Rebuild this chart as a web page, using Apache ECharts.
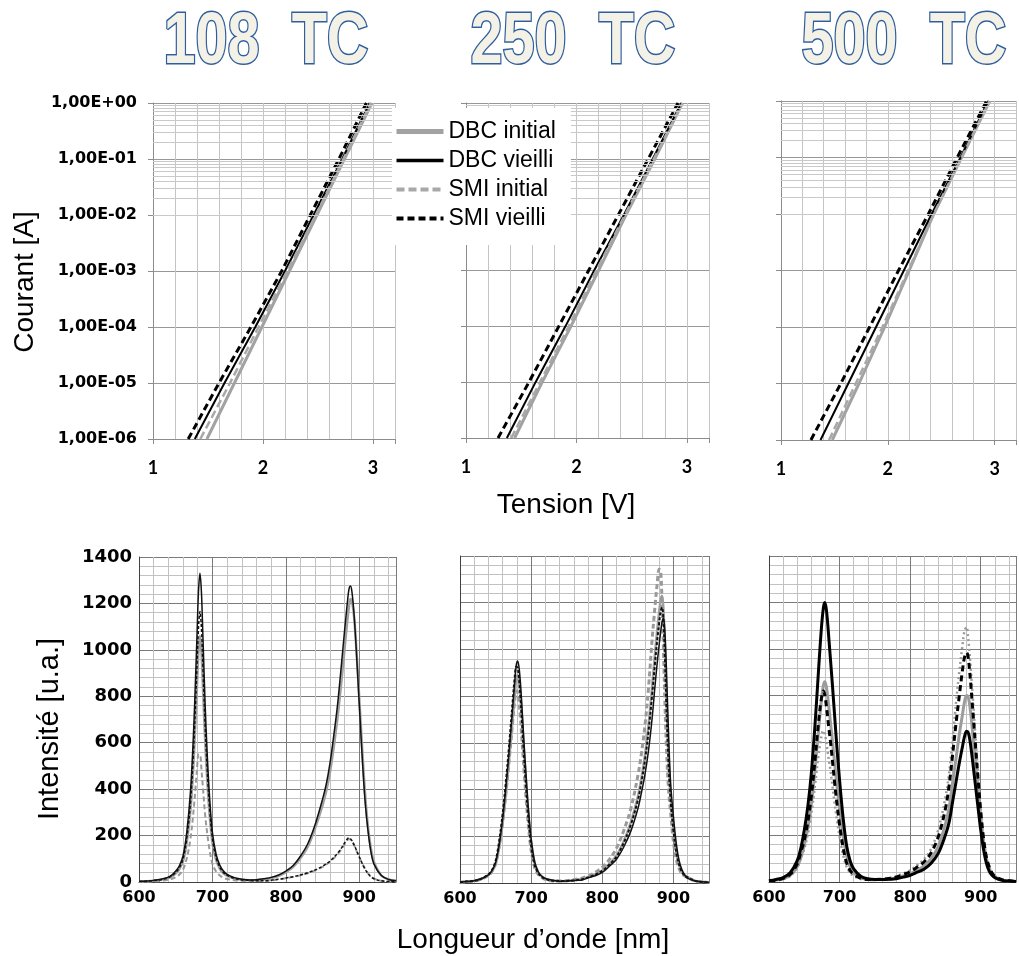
<!DOCTYPE html>
<html><head><meta charset="utf-8">
<script src="https://cdn.jsdelivr.net/npm/echarts@6/dist/echarts.min.js"></script>
<style>html,body{margin:0;padding:0;background:#fff}#c{width:1019px;height:956px}</style>
</head><body><div id="c"></div><script>
// ---------- DATA ----------
const titles = ['108  TC', '250  TC', '500  TC'];
const seriesNames = ['DBC initial', 'DBC vieilli', 'SMI initial', 'SMI vieilli'];
const voltageTicks = [1, 2, 3];
const currentLevels = [1e-6, 1e-5, 1e-4, 1e-3, 1e-2, 1e-1, 1];

// I-V : voltage (V) reached at each current level
const iv108DbcInitial = [1.49, 1.74, 1.99, 2.24, 2.49, 2.74, 2.99];
const iv108DbcVieilli = [1.38, 1.65, 1.93, 2.20, 2.46, 2.72, 2.97];
const iv108SmiInitial = [1.43, 1.70, 1.96, 2.22, 2.48, 2.73, 2.98];
const iv108SmiVieilli = [1.32, 1.60, 1.89, 2.17, 2.43, 2.69, 2.94];
const iv250DbcInitial = [1.44, 1.69, 1.95, 2.20, 2.45, 2.71, 2.96];
const iv250DbcVieilli = [1.37, 1.63, 1.90, 2.16, 2.43, 2.69, 2.95];
const iv250SmiInitial = [1.41, 1.67, 1.93, 2.18, 2.44, 2.70, 2.96];
const iv250SmiVieilli = [1.29, 1.57, 1.84, 2.11, 2.38, 2.65, 2.92];
const iv500DbcInitial = [1.48, 1.73, 1.97, 2.20, 2.43, 2.69, 2.955];
const iv500DbcVieilli = [1.37, 1.63, 1.89, 2.15, 2.41, 2.68, 2.94];
const iv500SmiInitial = [1.45, 1.70, 1.95, 2.19, 2.43, 2.69, 2.95];
const iv500SmiVieilli = [1.28, 1.56, 1.83, 2.10, 2.38, 2.65, 2.925];

// Spectra : wavelength (nm) and intensity (u.a.)
const wavelengths = [600,610,620,630,640,645,650,655,660,665,670,674,677,679,681,683,685,687,690,693,696,700,705,710,715,720,730,740,750,760,770,780,790,800,810,820,830,840,850,855,860,865,870,874,877,880,882,884,886,888,890,893,896,900,904,908,912,916,920,930,940,950];

const sp108DbcInitial = [2,3,5,10,17,24,37,56,90,170,307,498,700,848,996,1060,996,848,615,435,297,170,95,58,37,27,15,10,8,8,12,17,26,42,65,103,153,233,331,392,472,576,698,815,907,1005,1072,1133,1188,1219,1213,1139,1005,790,570,374,233,141,86,28,11,5];
const sp108DbcVieilli = [3,4,7,12,21,31,47,70,113,213,386,625,878,1064,1250,1330,1250,1064,771,545,372,213,120,73,47,33,19,12,9,10,14,20,30,47,71,112,166,249,357,421,510,625,752,880,982,1084,1148,1211,1262,1275,1250,1148,995,765,536,344,217,128,77,28,11,5];
const sp108SmiInitial = [1,2,3,5,10,14,21,32,53,101,185,297,409,487,549,549,487,409,291,207,140,78,45,28,18,13,8,5,4,4,5,7,11,16,22,29,38,50,65,75,87,101,118,134,148,163,173,181,185,182,175,158,136,107,80,56,37,24,15,5,2,1];
const sp108SmiVieilli = [2,3,6,10,19,27,41,62,99,186,338,548,769,932,1095,1165,1095,932,676,478,326,186,105,64,41,29,15,9,7,5,5,8,12,17,23,30,40,52,68,78,90,105,122,138,152,168,178,187,190,186,178,160,138,108,80,55,36,22,14,5,2,1];

const sp250DbcInitial = [3,5,9,17,33,50,80,151,258,401,561,703,810,872,890,863,801,712,561,427,303,178,85,45,28,18,11,8,9,12,16,25,37,54,82,118,178,258,369,449,547,677,836,978,1076,1162,1212,1230,1169,1009,800,541,369,234,135,80,49,32,25,10,5,2];
const sp250DbcVieilli = [3,6,10,18,35,53,86,162,276,428,599,751,865,931,950,922,855,760,599,456,323,190,90,48,29,19,12,8,9,11,12,22,31,45,72,102,153,221,318,386,465,568,704,840,936,1022,1073,1118,1135,1078,931,653,431,284,170,96,57,34,20,10,5,2];
const sp250SmiInitial = [2,6,8,17,33,50,83,158,266,398,556,689,784,822,818,776,706,618,481,357,249,141,66,37,23,15,9,9,10,14,20,30,45,68,101,149,223,317,459,554,675,837,1040,1181,1276,1343,1337,1202,999,776,594,405,304,176,101,61,39,30,23,9,4,2];
const sp250SmiVieilli = [3,7,9,19,37,56,94,178,299,449,626,776,884,926,921,874,795,697,542,402,281,159,75,42,26,17,10,9,9,11,15,24,35,52,79,113,171,248,354,431,525,649,802,938,1033,1115,1162,1180,1121,968,767,519,354,224,130,77,47,31,24,9,4,2];

const sp500DbcInitial = [3,8,14,28,66,103,159,232,335,477,645,774,843,860,843,800,744,688,602,512,421,314,198,112,65,40,18,11,10,11,12,17,26,35,52,69,101,153,250,314,423,531,640,716,773,801,797,769,720,660,596,499,403,278,173,101,58,36,23,9,4,2];
const sp500DbcVieilli = [5,11,19,40,92,144,222,324,468,666,900,1080,1176,1200,1176,1116,1038,960,840,714,588,438,276,156,90,56,25,14,11,11,12,14,21,29,42,56,82,124,202,254,341,429,517,579,624,647,644,621,582,533,481,403,325,224,140,81,47,29,19,7,4,2];
const sp500SmiInitial = [3,7,12,26,62,101,143,205,293,410,540,621,650,637,605,562,520,481,410,338,273,195,117,65,39,26,13,11,11,13,17,24,36,50,72,99,144,226,363,462,605,770,913,1012,1078,1095,1056,990,913,825,737,605,473,308,187,110,64,40,26,10,5,3];
const sp500SmiVieilli = [4,8,16,33,78,127,180,258,369,517,681,783,820,804,763,709,656,607,517,426,344,246,148,82,49,33,16,11,11,12,15,21,32,44,64,87,127,195,315,409,542,680,808,906,965,985,970,916,847,768,690,571,453,305,187,108,66,39,25,10,5,3];

// ---------- LAYOUT / STYLE ----------
const ivSets = [
  [iv108DbcInitial, iv108DbcVieilli, iv108SmiInitial, iv108SmiVieilli],
  [iv250DbcInitial, iv250DbcVieilli, iv250SmiInitial, iv250SmiVieilli],
  [iv500DbcInitial, iv500DbcVieilli, iv500SmiInitial, iv500SmiVieilli]
];
const spSets = [
  [sp108DbcInitial, sp108DbcVieilli, sp108SmiInitial, sp108SmiVieilli],
  [sp250DbcInitial, sp250DbcVieilli, sp250SmiInitial, sp250SmiVieilli],
  [sp500DbcInitial, sp500DbcVieilli, sp500SmiInitial, sp500SmiVieilli]
];
const topBoxes = [
  {left: 153, top: 103, width: 242, height: 336},
  {left: 466, top: 103, width: 243, height: 335},
  {left: 781, top: 101, width: 243, height: 339}
];
const botBoxes = [
  {left: 139, top: 557, width: 257, height: 325},
  {left: 460, top: 556, width: 249, height: 327},
  {left: 769, top: 556, width: 249, height: 326}
];
const titleX = [266, 573, 904];

const topStyles = [
  {color: '#a2a2a2', width: 3, type: 'solid'},
  {color: '#000000', width: 2, type: 'solid'},
  {color: '#a8a8a8', width: 2.5, type: [8, 4]},
  {color: '#000000', width: 3, type: [7, 4]}
];
const botStyles = [
  [
    {color: '#a0a0a0', width: 2.5, type: 'solid'},
    {color: '#111111', width: 1.5, type: 'solid'},
    {color: '#9a9a9a', width: 2, type: [5, 3]},
    {color: '#111111', width: 1.5, type: [3, 2]}
  ],
  [
    {color: '#a0a0a0', width: 2.5, type: 'solid'},
    {color: '#111111', width: 1.5, type: 'solid'},
    {color: '#9a9a9a', width: 3, type: [5, 3]},
    {color: '#111111', width: 2, type: [3, 2]}
  ],
  [
    {color: '#9c9c9c', width: 3, type: 'solid'},
    {color: '#000000', width: 3, type: 'solid'},
    {color: '#9a9a9a', width: 2.5, type: [2, 3]},
    {color: '#000000', width: 3, type: [6, 4]}
  ]
];
const drawOrder = [0, 2, 3, 1];

// minor log grid values (2..9 per decade)
const minorLog = [];
for (let e = -6; e < 0; e++) for (let m = 2; m <= 9; m++) minorLog.push(m * Math.pow(10, e));

function sciLabel(v) {
  const e = Math.round(Math.log10(v));
  return '1,00E' + (e >= 0 ? '+' : '-') + String(Math.abs(e)).padStart(2, '0');
}

const grid = [], xAxis = [], yAxis = [], series = [];
const lblTop = {fontFamily: 'DejaVu Sans', fontWeight: 'bold', fontSize: 16, color: '#000'};

topBoxes.forEach((b, i) => {
  grid.push(Object.assign({containLabel: false}, b));
  xAxis.push({type: 'value', gridIndex: i, position: 'bottom', min: 1, max: 3.2, interval: 0.2,
    axisLine: {show: false}, axisTick: {show: false}, axisLabel: {show: false},
    splitLine: {show: true, lineStyle: {color: '#c4c4c4', width: 1}}});
  xAxis.push({type: 'value', gridIndex: i, position: 'bottom', min: 1, max: 3.2, interval: 1,
    axisLine: {show: true, onZero: false, lineStyle: {color: '#8c8c8c'}},
    axisTick: {show: true, length: 5, lineStyle: {color: '#8c8c8c'}},
    splitLine: {show: false},
    axisLabel: {show: true, margin: 20, fontFamily: 'Lato', fontWeight: 'bold', fontSize: 18, color: '#000',
      formatter: v => voltageTicks.some(t => Math.abs(t - v) < 1e-6) ? String(Math.round(v)) : ''}});
  yAxis.push({type: 'log', logBase: 10, gridIndex: i, position: 'left', min: 1e-6, max: 1, splitNumber: 6,
    axisLine: {show: true, lineStyle: {color: '#8c8c8c'}},
    axisTick: {show: true, length: 5, lineStyle: {color: '#8c8c8c'}},
    splitLine: {show: true, lineStyle: {color: '#989898', width: 1}},
    axisLabel: Object.assign({show: i === 0, margin: 16, formatter: sciLabel}, lblTop)});
});
botBoxes.forEach((b, i) => {
  const g = i + 3;
  grid.push(Object.assign({containLabel: false}, b));
  xAxis.push({type: 'value', gridIndex: g, position: 'bottom', min: 600, max: 950, interval: 20,
    axisLine: {show: false}, axisTick: {show: false}, axisLabel: {show: false},
    splitLine: {show: true, lineStyle: {color: '#c2c2c2', width: 1}}});
  xAxis.push({type: 'value', gridIndex: g, position: 'bottom', min: 600, max: 950, interval: 100,
    axisLine: {show: true, onZero: false, lineStyle: {color: '#404040', width: 1}},
    axisTick: {show: false},
    splitLine: {show: true, lineStyle: {color: '#7a7a7a', width: 1}},
    axisLabel: {show: true, margin: 8, fontFamily: 'DejaVu Sans', fontWeight: 'bold', fontSize: 16, color: '#000',
      formatter: v => (v % 100 === 0 && v < 950) ? String(v) : ''}});
  yAxis.push({type: 'value', gridIndex: g, position: 'left', min: 0, max: 1400, interval: 200,
    axisLine: {show: true, lineStyle: {color: '#404040', width: 1}},
    axisTick: {show: false},
    minorTick: {show: false, splitNumber: 5},
    minorSplitLine: {show: true, lineStyle: {color: '#c2c2c2', width: 1}},
    splitLine: {show: true, lineStyle: {color: '#7a7a7a', width: 1}},
    axisLabel: {show: i === 0, margin: 7, fontFamily: 'DejaVu Sans', fontWeight: 'bold', fontSize: 18, color: '#000',
      formatter: v => String(v)}});
});

for (let i = 0; i < 3; i++) {
  seriesNames.forEach((name, k) => {
    const st = topStyles[k];
    series.push({type: 'line', name, xAxisIndex: 2 * i + 1, yAxisIndex: i, z: 3,
      data: ivSets[i][k].map((v, j) => [v, currentLevels[j]]),
      symbol: 'none', showSymbol: false, silent: true, emphasis: {disabled: true},
      lineStyle: {color: st.color, width: st.width, type: st.type}, itemStyle: {color: st.color}});
  });
  series.push({type: 'line', xAxisIndex: 2 * i + 1, yAxisIndex: i, z: 1, silent: true,
    data: [[1, 1e-6]], symbol: 'none', lineStyle: {opacity: 0},
    markLine: {silent: true, symbol: ['none', 'none'], label: {show: false}, animation: false,
      lineStyle: {color: '#c9c9c9', width: 1, type: 'solid'},
      emphasis: {disabled: true},
      data: minorLog.map(v => ({yAxis: v}))}});
}
for (let i = 0; i < 3; i++) {
  drawOrder.forEach(k => {
    const st = botStyles[i][k];
    series.push({type: 'line', name: seriesNames[k], xAxisIndex: 2 * (i + 3) + 1, yAxisIndex: i + 3, z: 3,
      data: spSets[i][k].map((v, j) => [wavelengths[j], v]),
      smooth: 0.35,
      symbol: 'none', showSymbol: false, silent: true, emphasis: {disabled: true},
      lineStyle: {color: st.color, width: st.width, type: st.type, join: 'round'}, itemStyle: {color: st.color}});
  });
}

const legendLine = [5, 3.5, 4, 4];
const option = {
  animation: false,
  backgroundColor: '#ffffff',
  grid, xAxis, yAxis, series,
  legend: {
    data: seriesNames.map((n, k) => ({name: n, lineStyle: {width: legendLine[k]}})),
    orient: 'vertical', left: 392, top: 108,
    itemWidth: 47, itemHeight: 14, itemGap: 6,
    padding: [12, 15, 15, 2],
    backgroundColor: '#ffffff',
    selectedMode: false,
    itemStyle: {opacity: 0, borderWidth: 0},
    textStyle: {fontFamily: 'Liberation Sans', fontSize: 23, color: '#000', lineHeight: 23},
    z: 20
  },
  graphic: [
    ...titles.map((t, k) => ({type: 'text', x: titleX[k], y: 43, scaleX: 0.8, z: 30,
      style: {text: t, font: 'bold 72px "Liberation Sans", Arial, sans-serif',
        fill: '#f4f2e6', stroke: '#2f5e9e', lineWidth: 3,
        textAlign: 'center', textVerticalAlign: 'middle', align: 'center', verticalAlign: 'middle',
        shadowColor: 'rgba(0,0,0,0.25)', shadowBlur: 3, shadowOffsetX: 2, shadowOffsetY: 2}})),
    {type: 'text', x: 25, y: 282, rotation: Math.PI / 2, z: 30,
      style: {text: 'Courant [A]', font: '28px "Liberation Sans", Arial, sans-serif', fill: '#000',
        textAlign: 'center', textVerticalAlign: 'middle', align: 'center', verticalAlign: 'middle'}},
    {type: 'text', x: 566, y: 505, z: 30,
      style: {text: 'Tension [V]', font: '28px "Liberation Sans", Arial, sans-serif', fill: '#000',
        textAlign: 'center', textVerticalAlign: 'middle', align: 'center', verticalAlign: 'middle'}},
    {type: 'text', x: 50, y: 729, rotation: Math.PI / 2, z: 30,
      style: {text: 'Intensité [u.a.]', font: '29px "Liberation Sans", Arial, sans-serif', fill: '#000',
        textAlign: 'center', textVerticalAlign: 'middle', align: 'center', verticalAlign: 'middle'}},
    {type: 'text', x: 533, y: 940, z: 30,
      style: {text: 'Longueur d\u2019onde [nm]', font: '28px "Liberation Sans", Arial, sans-serif', fill: '#000',
        textAlign: 'center', textVerticalAlign: 'middle', align: 'center', verticalAlign: 'middle'}}
  ]
};
const chart = echarts.init(document.getElementById('c'), null, {renderer: 'canvas'});
chart.setOption(option);
</script></body></html>
